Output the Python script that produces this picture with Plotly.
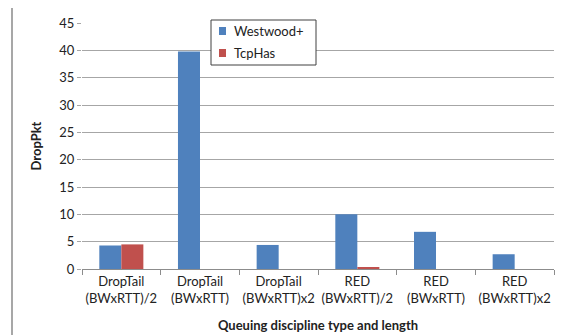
import plotly.graph_objects as go

categories = ["DropTail<br>(BWxRTT)/2", "DropTail<br>(BWxRTT)", "DropTail<br>(BWxRTT)x2",
              "RED<br>(BWxRTT)/2", "RED<br>(BWxRTT)", "RED<br>(BWxRTT)x2"]
westwood = [4.3, 39.8, 4.4, 10.0, 6.8, 2.7]
tcphas = [4.5, 0, 0, 0.2, 0, 0]
y_ticks = [0, 5, 10, 15, 20, 25, 30, 35, 40, 45]
series_names = ["Westwood+", "TcpHas"]
series_colors = ["#4F81BD", "#C0504D"]

OFF = 8  # default page body margin
W, H = 571 - OFF, 335 - OFF
L, R, T, B = 82 - OFF, 17, 23 - OFF, 66
pw, ph = W - L - R, H - T - B

# convert screen pixel coords to paper coords
def px(x):
    return (x - OFF - L) / pw

def py(y):
    return (H - B - (y - OFF)) / ph

FAM = "Lato, Open Sans, sans-serif"
font = dict(family=FAM, size=13, color="#222222")

fig = go.Figure()
for name, vals, col in zip(series_names, [westwood, tcphas], series_colors):
    fig.add_trace(go.Bar(name=name, x=categories, y=vals,
                         marker=dict(color=col, line=dict(width=0))))

shapes = [dict(type="rect", xref="paper", yref="paper",
               x0=px(12), x1=px(590), y0=py(350), y1=py(5),
               line=dict(color="#8a8a8a", width=1.5), layer="below"),
          dict(type="rect", xref="paper", yref="paper",
               x0=px(211), x1=px(316), y0=py(65), y1=py(20),
               line=dict(color="#404040", width=1), fillcolor="white", layer="above")]
annotations = []
for i, (name, col) in enumerate(zip(series_names, series_colors)):
    cy = 31 + i * 22
    shapes.append(dict(type="rect", xref="paper", yref="paper",
                       x0=px(219), x1=px(226), y0=py(cy + 4), y1=py(cy - 4),
                       line=dict(width=0), fillcolor=col, layer="above"))
    annotations.append(dict(xref="paper", yref="paper", x=px(232), y=py(cy),
                            xanchor="left", yanchor="middle", text=name,
                            showarrow=False, font=font))

fig.update_layout(
    width=W, height=H,
    margin=dict(l=L, r=R, t=T, b=B),
    paper_bgcolor="white", plot_bgcolor="white",
    font=font,
    barmode="group", bargap=0.44, bargroupgap=0,
    showlegend=False,
    xaxis=dict(showgrid=False, showline=True, linecolor="#8c8c8c", linewidth=1,
               ticks="outside", tickson="boundaries", ticklen=5, tickcolor="#8c8c8c",
               tickfont=font, tickangle=0, automargin=False,
               title=dict(text="<b>Queuing discipline type and length</b>", standoff=16, font=font)),
    yaxis=dict(range=[0, 45], tickvals=y_ticks, showgrid=True, gridcolor="#a6a6a6", gridwidth=1,
               showline=False, zeroline=False, ticks="outside", ticklen=4, tickcolor="#a6a6a6",
               tickfont=font, automargin=False,
               title=dict(text="<b>DropPkt</b>", standoff=14, font=font)),
    shapes=shapes,
    annotations=annotations,
)

fig.write_html("out.html")
